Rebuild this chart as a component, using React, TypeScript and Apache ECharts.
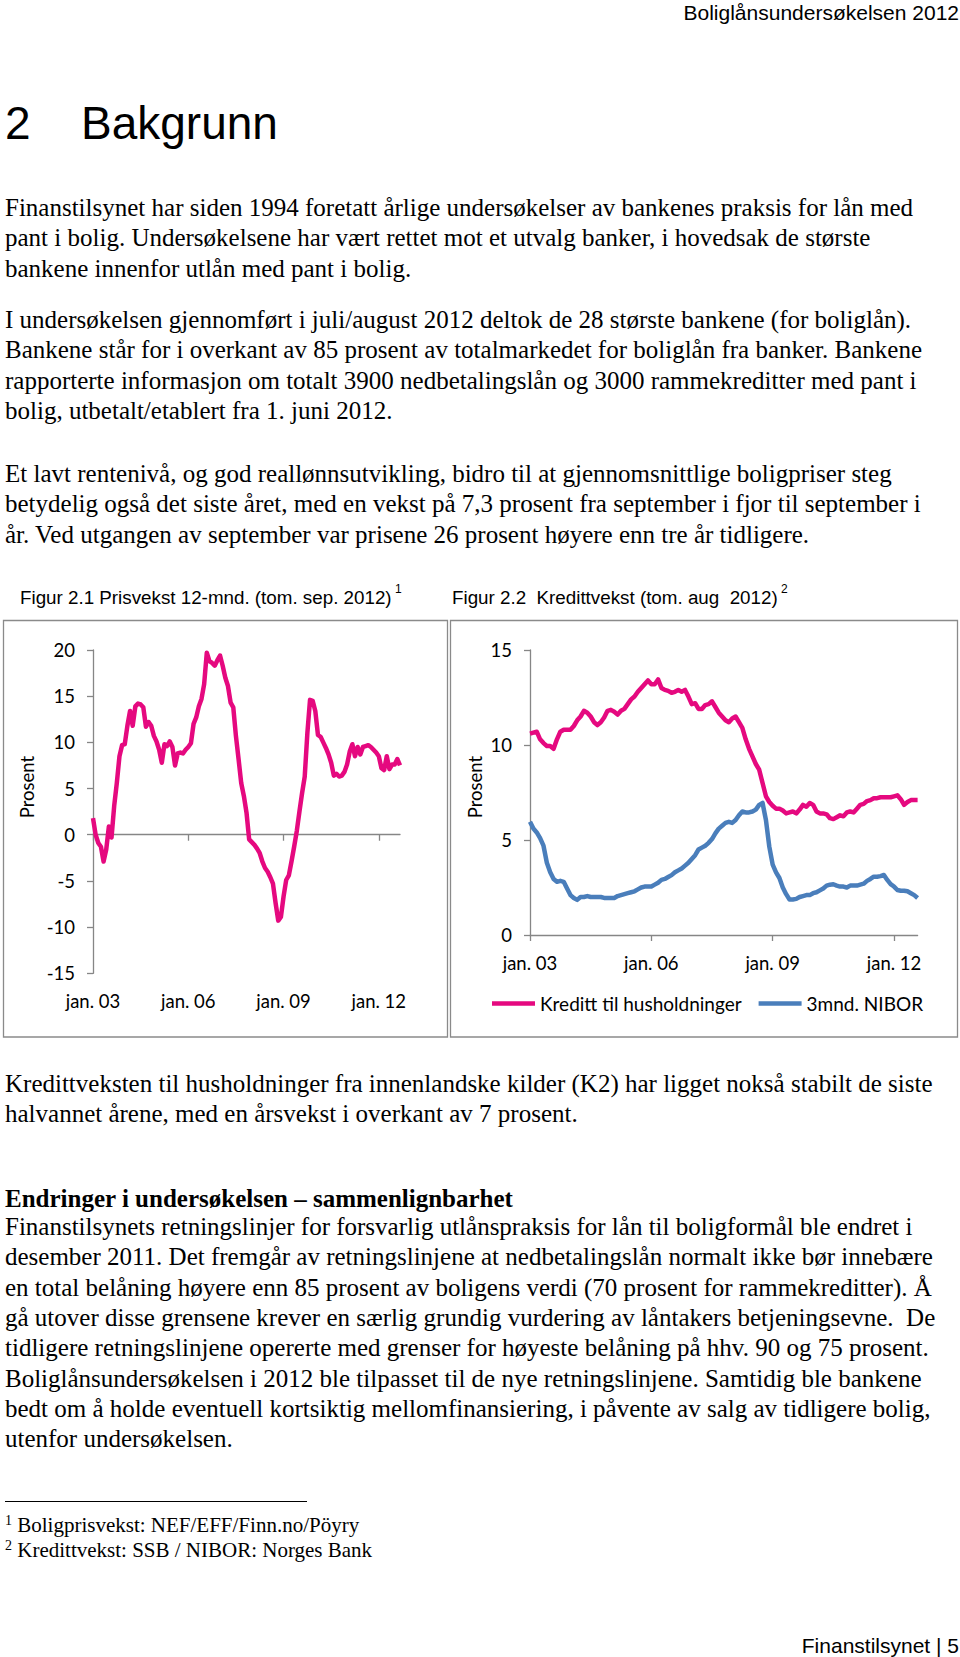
import React, { useEffect, useRef } from "react";
import * as echarts from "echarts";

// ---------- data ----------
const monthNames = ["jan", "feb", "mar", "apr", "mai", "jun", "jul", "aug", "sep", "okt", "nov", "des"];
const tickLabels = ["jan. 03", "jan. 06", "jan. 09", "jan. 12"];

// Figur 2.1: Prisvekst 12-mnd, jan 2003 - sep 2012 (prosent)
const priceGrowth = [
  1.8, 0.0, -0.9, -1.3, -2.9, -1.6, 0.9, -0.3, 3.1, 5.6,
  8.5, 9.7, 9.8, 11.8, 13.4, 11.8, 13.9, 14.2, 14.1, 13.8,
  11.7, 12.2, 11.8, 10.7, 10.1, 9.2, 7.8, 9.8, 9.6, 10.1,
  9.5, 7.5, 8.8, 8.9, 8.8, 9.2, 9.5, 9.9, 12.0, 12.7,
  13.9, 14.7, 16.3, 19.7, 18.8, 18.6, 18.3, 18.9, 19.4, 18.3,
  17.0, 16.1, 14.3, 13.8, 10.7, 8.2, 5.6, 4.2, 2.4, -0.5,
  -0.8, -1.1, -1.5, -2.0, -2.9, -3.6, -4.0, -4.6, -5.3, -7.4,
  -9.3, -8.9, -6.7, -4.9, -4.4, -2.9, -1.3, 0.4, 2.5, 4.5,
  6.3, 11.0, 14.6, 14.5, 13.4, 10.8, 10.6, 10.0, 9.4, 8.7,
  7.8, 6.4, 6.6, 6.3, 6.4, 6.8, 7.6, 9.0, 9.8, 8.5,
  9.5, 8.7, 9.5, 9.6, 9.7, 9.5, 9.2, 8.9, 8.5, 7.2,
  7.0, 8.5, 7.1, 7.6, 7.6, 8.2, 7.5,
];

// Figur 2.2: Kredittvekst, jan 2003 - aug 2012 (prosent)
const householdCredit = [
  10.6, 10.65, 10.7, 10.3, 10.1, 9.95, 9.95, 9.8, 10.3, 10.7,
  10.8, 10.8, 10.8, 11.0, 11.3, 11.5, 11.8, 11.7, 11.5, 11.2,
  11.05, 11.2, 11.45, 11.8, 11.85, 11.75, 11.6, 11.8, 11.9, 12.15,
  12.4, 12.55, 12.8, 13.0, 13.2, 13.4, 13.2, 13.2, 13.45, 13.0,
  12.9, 12.85, 12.75, 12.8, 12.9, 12.8, 12.9, 12.55, 12.15, 12.2,
  11.9, 11.9, 12.1, 12.15, 12.3, 12.0, 11.7, 11.5, 11.3, 11.2,
  11.4, 11.5, 11.2, 10.9, 10.3, 9.8, 9.4, 9.0, 8.7, 8.0,
  7.3, 7.0, 6.8, 6.65, 6.65, 6.55, 6.4, 6.45, 6.5, 6.4,
  6.6, 6.85, 6.75, 6.95, 6.85, 6.5, 6.4, 6.4, 6.35, 6.15,
  6.1, 6.2, 6.3, 6.25, 6.45, 6.5, 6.45, 6.65, 6.85, 6.9,
  7.05, 7.1, 7.2, 7.2, 7.25, 7.25, 7.25, 7.25, 7.3, 7.35,
  7.15, 6.85, 7.0, 7.1, 7.1, 7.1,
];

const nibor3m = [
  5.96, 5.6, 5.4, 5.1, 4.7, 3.8, 3.3, 2.95, 2.8, 2.85,
  2.8, 2.45, 2.1, 1.95, 1.85, 2.0, 2.0, 2.05, 2.0, 2.0,
  2.0, 2.0, 1.95, 1.95, 1.95, 1.95, 2.05, 2.1, 2.15, 2.2,
  2.25, 2.3, 2.4, 2.5, 2.55, 2.55, 2.55, 2.65, 2.75, 2.9,
  2.95, 3.05, 3.15, 3.3, 3.4, 3.5, 3.65, 3.8, 4.0, 4.2,
  4.5, 4.6, 4.7, 4.85, 5.05, 5.35, 5.6, 5.75, 5.9, 5.96,
  5.9, 6.05, 6.3, 6.5, 6.45, 6.45, 6.5, 6.6, 6.85, 6.95,
  6.05, 4.65, 3.7, 3.3, 3.0, 2.5, 2.15, 1.87, 1.87, 1.9,
  2.0, 2.05, 2.1, 2.1, 2.2, 2.25, 2.35, 2.45, 2.6, 2.65,
  2.67, 2.6, 2.55, 2.55, 2.5, 2.6, 2.6, 2.6, 2.65, 2.7,
  2.85, 2.95, 3.07, 3.07, 3.1, 3.16, 2.9, 2.68, 2.55, 2.37,
  2.33, 2.33, 2.3, 2.2, 2.1, 1.95,
];

const seriesNames = ["Kreditt til husholdninger", "3mnd. NIBOR"];

// ---------- text ----------
const headerText = "Boliglånsundersøkelsen 2012";
const footerText = "Finanstilsynet | 5";

const para1 = [
  "Finanstilsynet har siden 1994 foretatt årlige undersøkelser av bankenes praksis for lån med",
  "pant i bolig. Undersøkelsene har vært rettet mot et utvalg banker, i hovedsak de største",
  "bankene innenfor utlån med pant i bolig.",
];
const para2 = [
  "I undersøkelsen gjennomført i juli/august 2012 deltok de 28 største bankene (for boliglån).",
  "Bankene står for i overkant av 85 prosent av totalmarkedet for boliglån fra banker. Bankene",
  "rapporterte informasjon om totalt 3900 nedbetalingslån og 3000 rammekreditter med pant i",
  "bolig, utbetalt/etablert fra 1. juni 2012.",
];
const para3 = [
  "Et lavt rentenivå, og god reallønnsutvikling, bidro til at gjennomsnittlige boligpriser steg",
  "betydelig også det siste året, med en vekst på 7,3 prosent fra september i fjor til september i",
  "år. Ved utgangen av september var prisene 26 prosent høyere enn tre år tidligere.",
];
const para4 = [
  "Kredittveksten til husholdninger fra innenlandske kilder (K2) har ligget nokså stabilt de siste",
  "halvannet årene, med en årsvekst i overkant av 7 prosent.",
];
const heading2 = "Endringer i undersøkelsen – sammenlignbarhet";
const para5 = [
  "Finanstilsynets retningslinjer for forsvarlig utlånspraksis for lån til boligformål ble endret i",
  "desember 2011. Det fremgår av retningslinjene at nedbetalingslån normalt ikke bør innebære",
  "en total belåning høyere enn 85 prosent av boligens verdi (70 prosent for rammekreditter). Å",
  "gå utover disse grensene krever en særlig grundig vurdering av låntakers betjeningsevne.  De",
  "tidligere retningslinjene opererte med grenser for høyeste belåning på hhv. 90 og 75 prosent.",
  "Boliglånsundersøkelsen i 2012 ble tilpasset til de nye retningslinjene. Samtidig ble bankene",
  "bedt om å holde eventuell kortsiktig mellomfinansiering, i påvente av salg av tidligere bolig,",
  "utenfor undersøkelsen.",
];
const footnotes = [
  { n: "1", t: "Boligprisvekst: NEF/EFF/Finn.no/Pöyry" },
  { n: "2", t: "Kredittvekst: SSB / NIBOR: Norges Bank" },
];
const fig1Title = "Figur 2.1 Prisvekst 12-mnd. (tom. sep. 2012)";
const fig2Title = "Figur 2.2  Kredittvekst (tom. aug  2012)";

// ---------- helpers ----------
function buildCats(n: number): string[] {
  const out: string[] = [];
  for (let i = 0; i < n; i++) {
    const y = 3 + Math.floor(i / 12);
    out.push(monthNames[i % 12] + ". " + String(y).padStart(2, "0"));
  }
  return out;
}
const catsA = buildCats(priceGrowth.length);
const catsB = buildCats(householdCredit.length);
const showTick = (i: number, v: string) => tickLabels.indexOf(v) >= 0;

const serif = '"Liberation Serif", "Times New Roman", serif';
const sans = '"Liberation Sans", Arial, sans-serif';
const chartFont = 'Lato, "Open Sans", sans-serif';
const axisColor = "#868686";
const pink = "#E5097F";
const blue = "#4A7EBB";

const CH_TOP = 580;

function Charts() {
  const ref = useRef<HTMLDivElement>(null);
  useEffect(() => {
    if (!ref.current) return;
    const chart = echarts.init(ref.current, undefined, { renderer: "svg" });
    const lbl = { color: "#000", fontSize: 18.5, fontFamily: chartFont };
    const line = { lineStyle: { color: axisColor, width: 1.3 } };
    chart.setOption({
      animation: false,
      textStyle: { fontFamily: chartFont },
      grid: [
        { left: 93, top: 70, width: 307, height: 323.3 },
        { left: 530, top: 70, width: 387.6, height: 285 },
      ],
      xAxis: [
        {
          gridIndex: 0, type: "category", data: catsA, boundaryGap: false, position: "bottom",
          axisLine: { show: true, onZero: true, ...line },
          axisTick: { show: true, interval: showTick, length: 6, ...line },
          axisLabel: { show: false },
          splitLine: { show: false },
        },
        {
          gridIndex: 0, type: "category", data: catsA, boundaryGap: false, position: "bottom",
          axisLine: { show: false, onZero: false },
          axisTick: { show: false },
          axisLabel: { ...lbl, interval: showTick, margin: 18 },
          splitLine: { show: false },
        },
        {
          gridIndex: 1, type: "category", data: catsB, boundaryGap: false, position: "bottom",
          axisLine: { show: true, onZero: false, ...line },
          axisTick: { show: true, interval: showTick, length: 6, ...line },
          axisLabel: { ...lbl, interval: showTick, margin: 18 },
          splitLine: { show: false },
        },
      ],
      yAxis: [
        {
          gridIndex: 0, type: "value", min: -15, max: 20, interval: 5,
          axisLine: { show: true, ...line },
          axisTick: { show: true, length: 6, ...line },
          axisLabel: { ...lbl, margin: 18 },
          splitLine: { show: false },
        },
        {
          gridIndex: 1, type: "value", min: 0, max: 15, interval: 5,
          axisLine: { show: true, ...line },
          axisTick: { show: true, length: 6, ...line },
          axisLabel: { ...lbl, margin: 18 },
          splitLine: { show: false },
        },
      ],
      legend: {
        data: seriesNames,
        left: 492, top: 414, padding: 0,
        icon: "rect", itemWidth: 43, itemHeight: 4.5, itemGap: 17,
        textStyle: { color: "#000", fontSize: 19, fontFamily: chartFont },
      },
      series: [
        {
          type: "line", xAxisIndex: 0, yAxisIndex: 0, data: priceGrowth,
          showSymbol: false, color: pink, lineStyle: { color: pink, width: 4.5, join: "round" },
        },
        {
          name: seriesNames[0], type: "line", xAxisIndex: 2, yAxisIndex: 1, data: householdCredit,
          showSymbol: false, color: pink, lineStyle: { color: pink, width: 4.5, join: "round" },
        },
        {
          name: seriesNames[1], type: "line", xAxisIndex: 2, yAxisIndex: 1, data: nibor3m,
          showSymbol: false, color: blue, lineStyle: { color: blue, width: 4.5, join: "round" },
        },
      ],
      graphic: [
        { type: "rect", silent: true, shape: { x: 3.5, y: 40.5, width: 444, height: 416.5 }, style: { fill: "none", stroke: "#8a8a8a", lineWidth: 1.3 } },
        { type: "rect", silent: true, shape: { x: 450.5, y: 40.5, width: 507, height: 416.5 }, style: { fill: "none", stroke: "#8a8a8a", lineWidth: 1.3 } },
        { type: "text", x: 20, y: 17, style: { text: fig1Title, fontSize: 18.8, fontFamily: sans, fill: "#000", verticalAlign: "middle" } },
        { type: "text", x: 395, y: 9, style: { text: "1", fontSize: 12, fontFamily: sans, fill: "#000", verticalAlign: "middle" } },
        { type: "text", x: 452, y: 17, style: { text: fig2Title, fontSize: 18.8, fontFamily: sans, fill: "#000", verticalAlign: "middle" } },
        { type: "text", x: 781, y: 9, style: { text: "2", fontSize: 12, fontFamily: sans, fill: "#000", verticalAlign: "middle" } },
        { type: "text", x: 27, y: 207, rotation: Math.PI / 2, style: { text: "Prosent", fontSize: 18.5, fontFamily: chartFont, fill: "#000", align: "center", verticalAlign: "middle" } },
        { type: "text", x: 475, y: 207, rotation: Math.PI / 2, style: { text: "Prosent", fontSize: 18.5, fontFamily: chartFont, fill: "#000", align: "center", verticalAlign: "middle" } },
      ],
    });
    return () => chart.dispose();
  }, []);
  return <div ref={ref} style={{ position: "absolute", left: 0, top: CH_TOP, width: 960, height: 470 }} />;
}

function Lines({ lines, top, step = 30.3, size = 25, bold = false }: { lines: string[]; top: number; step?: number; size?: number; bold?: boolean }) {
  return (
    <>
      {lines.map((t, i) => (
        <div
          key={i}
          style={{
            position: "absolute", left: 5, top: top + i * step, fontFamily: serif, fontSize: size,
            lineHeight: size + "px", whiteSpace: "pre", color: "#000", fontWeight: bold ? "bold" : "normal",
          }}
        >
          {t}
        </div>
      ))}
    </>
  );
}

export default function App() {
  return (
    <div style={{ position: "absolute", left: 0, top: 0, width: 960, height: 1657, background: "#fff", overflow: "hidden" }}>
      <div style={{ position: "absolute", right: 1, top: 2, fontFamily: sans, fontSize: 21, lineHeight: "21px", whiteSpace: "pre" }}>{headerText}</div>
      <div style={{ position: "absolute", left: 5, top: 100, fontFamily: sans, fontSize: 46, lineHeight: "46px" }}>2</div>
      <div style={{ position: "absolute", left: 81, top: 100, fontFamily: sans, fontSize: 46, lineHeight: "46px" }}>Bakgrunn</div>

      <Lines lines={para1} top={195} />
      <Lines lines={para2} top={307} />
      <Lines lines={para3} top={461} />

      <Charts />

      <Lines lines={para4} top={1071} />
      <Lines lines={[heading2]} top={1186} bold />
      <Lines lines={para5} top={1214} />

      <div style={{ position: "absolute", left: 5, top: 1501, width: 302, height: 1, background: "#000" }} />
      {footnotes.map((f, i) => (
        <div key={i} style={{ position: "absolute", left: 5, top: 1510 + i * 25.4, fontFamily: serif, fontSize: 21, lineHeight: "21px", whiteSpace: "pre" }}>
          <span style={{ fontSize: 14, verticalAlign: "7px" }}>{f.n}</span>
          <span> {f.t}</span>
        </div>
      ))}
      <div style={{ position: "absolute", right: 1, top: 1635, fontFamily: sans, fontSize: 21, lineHeight: "21px", whiteSpace: "pre" }}>{footerText}</div>
    </div>
  );
}
